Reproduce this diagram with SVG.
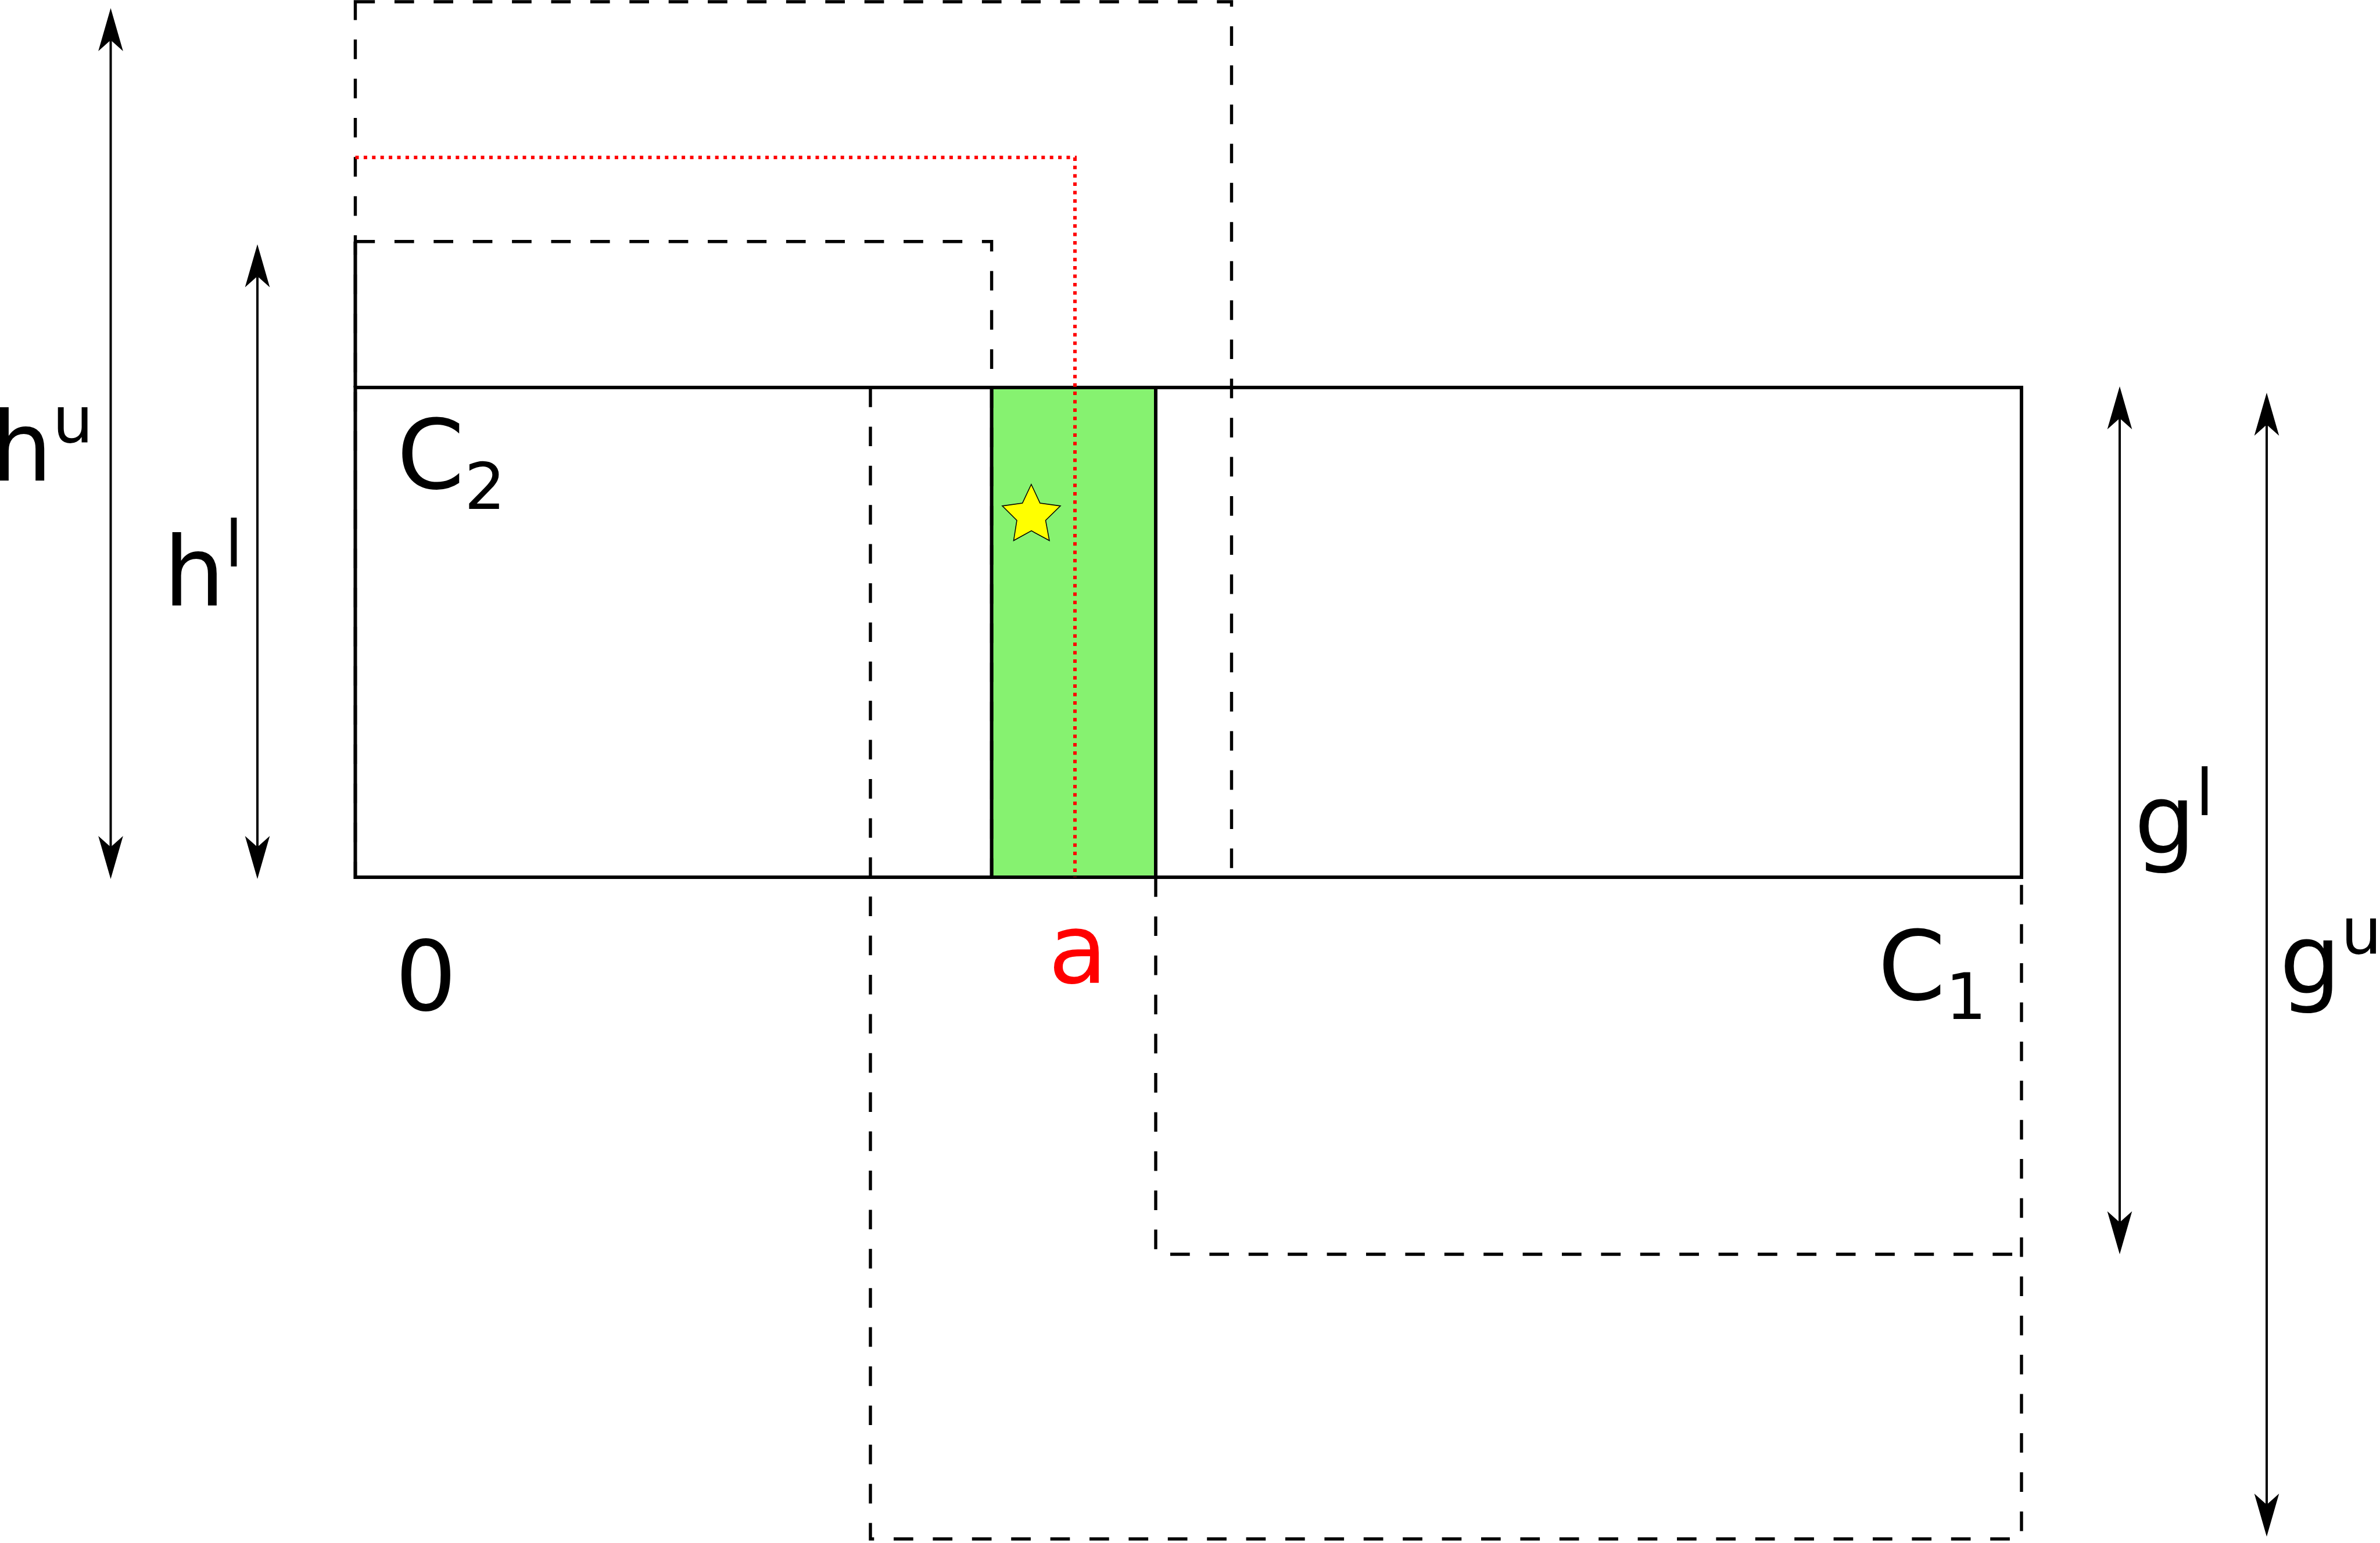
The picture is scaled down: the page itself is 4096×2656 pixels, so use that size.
<svg xmlns="http://www.w3.org/2000/svg" width="4096" height="2656" viewBox="0 0 4096 2656">
<style>
.solid{fill:none;stroke:#000;stroke-width:6}
.dash{fill:none;stroke:#000;stroke-width:5.4;stroke-dasharray:33.7 33.7}
.dot{fill:none;stroke:#ff0000;stroke-width:6;stroke-dasharray:6 8.4}
.arr{fill:none;stroke:#000;stroke-width:4;marker-start:url(#ah);marker-end:url(#ah)}
.lbl{font-family:"DejaVu Sans","Liberation Sans",sans-serif;font-size:166.5px;fill:#000}
.sm{font-size:111px}
</style>
<defs>
<marker id="ah" markerUnits="userSpaceOnUse" orient="auto-start-reverse" refX="0" refY="0" markerWidth="80" markerHeight="50" overflow="visible">
<path d="M55,0 L-19,-21.3 L0,0 L-19,21.3 Z" fill="#000"/>
</marker>
</defs>
<rect width="4096" height="2656" fill="#fff"/>
<g id="strip">
<rect x="1706.6" y="667" width="282.4" height="843" fill="#86f270" stroke="#000" stroke-width="6"/>
</g>
<g id="main-rect">
<rect class="solid" x="611.5" y="667" width="2867.5" height="843"/>
<line class="solid" x1="611.5" y1="415.7" x2="611.5" y2="667"/>
</g>
<g id="h-boxes">
<path class="dash" d="M611.5,3 H2119.5 V1510 H611.5 Z"/>
<path class="dash" d="M611.5,415.7 H1706.6 V1510"/>
</g>
<g id="g-boxes">
<path class="dash" d="M1498,667 V2649 H3479 V1510"/>
<path class="dash" d="M1989,1510 V2159 H3479"/>
</g>
<g id="a-line">
<path class="dot" d="M611.5,271 H1850 V1510"/>
</g>
<g id="star">
<polygon points="1774.8,833.7 1789.9,866 1825,870.9 1799.5,895.7 1806,930.5 1775.1,913.7 1744.5,930.5 1750,895.7 1724.9,870.9 1759.6,866" fill="#ffff00" stroke="#000" stroke-width="1.5"/>
</g>
<g id="connectors">
<line class="arr" x1="190.5" y1="69" x2="190.5" y2="1458"/>
<line class="arr" x1="443" y1="475.5" x2="443" y2="1458"/>
<line class="arr" x1="3648" y1="720" x2="3648" y2="2104"/>
<line class="arr" x1="3901" y1="731" x2="3901" y2="2590"/>
</g>
<g id="labels">
<text class="lbl" x="-15.2" y="827">h<tspan class="sm" y="761">u</tspan></text>
<text class="lbl" x="281.4" y="1042">h<tspan class="sm" y="975">l</tspan></text>
<text class="lbl" x="683" y="841">C<tspan class="sm" y="876">2</tspan></text>
<text class="lbl" x="680" y="1739">0</text>
<text class="lbl" x="1804" y="1692" fill="#ff0000" style="fill:#ff0000">a</text>
<text class="lbl" x="3232" y="1721">C<tspan class="sm" y="1754">1</tspan></text>
<text class="lbl" x="3673" y="1468">g<tspan class="sm" y="1403">l</tspan></text>
<text class="lbl" x="3923" y="1709">g<tspan class="sm" y="1641">u</tspan></text>
</g>
</svg>
